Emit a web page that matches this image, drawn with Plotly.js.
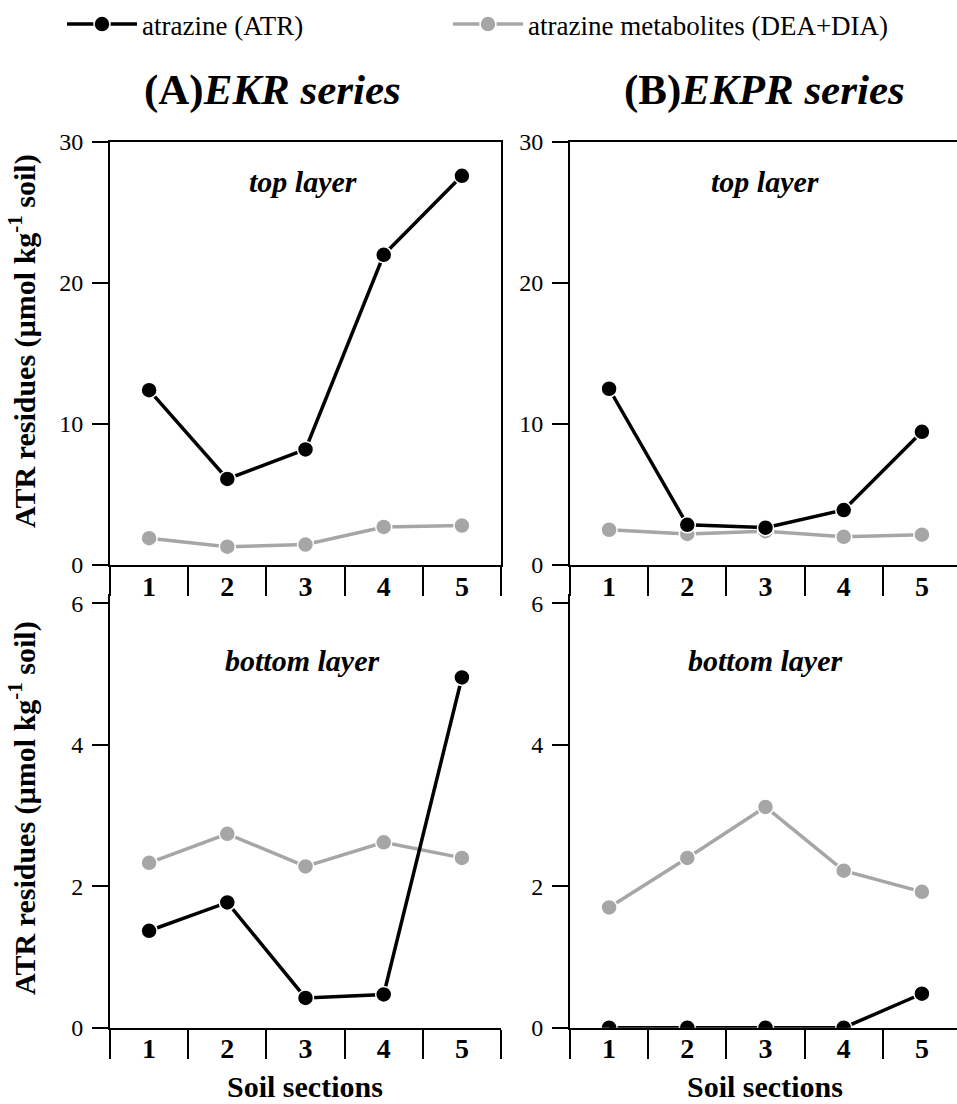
<!DOCTYPE html>
<html><head><meta charset="utf-8">
<script src="https://cdn.plot.ly/plotly-3.0.1.min.js"></script>
<style>html,body{margin:0;padding:0;overflow:hidden;background:#fff}#plot{width:965px;height:1104px}</style>
</head><body><div id="plot"></div><script>
// ---- data ----
const sections = [1, 2, 3, 4, 5];
const sectionLabels = ['1', '2', '3', '4', '5'];
const seriesNames = ['atrazine (ATR)', 'atrazine metabolites (DEA+DIA)'];
const ekrTopATR  = [12.4, 6.1, 8.2, 22.0, 27.6];
const ekrTopMet  = [1.9, 1.3, 1.45, 2.7, 2.8];
const ekprTopATR = [12.5, 2.85, 2.65, 3.9, 9.45];
const ekprTopMet = [2.5, 2.2, 2.4, 2.0, 2.15];
const ekrBotATR  = [1.37, 1.77, 0.42, 0.47, 4.95];
const ekrBotMet  = [2.33, 2.74, 2.28, 2.62, 2.40];
const ekprBotATR = [0, 0, 0, 0, 0.48];
const ekprBotMet = [1.70, 2.40, 3.12, 2.22, 1.92];
const topTicks = [0, 10, 20, 30];
const botTicks = [0, 2, 4, 6];

// ---- styling ----
const FONT = '"Liberation Serif", "Times New Roman", serif';
const W = 965, H = 1104;
const px = v => v / W, py = v => 1 - v / H;
const BLACK = '#000000', GREY = '#a6a6a6';

function mk(x, y, ax, color, name, legendId, show) {
  return {
    x: x, y: y, xaxis: 'x' + ax, yaxis: 'y' + ax, type: 'scatter', mode: 'lines+markers',
    name: name, legend: legendId, showlegend: show,
    line: {color: color, width: 3.5},
    marker: {size: 16, color: color, line: {color: '#ffffff', width: 1.5}},
    hoverinfo: 'skip'
  };
}
const traces = [
  mk(sections, ekrTopMet, '', GREY, seriesNames[1], 'legend2', true),
  mk(sections, ekrTopATR, '', BLACK, seriesNames[0], 'legend', true),
  mk(sections, ekprTopMet, '2', GREY, seriesNames[1], 'legend2', false),
  mk(sections, ekprTopATR, '2', BLACK, seriesNames[0], 'legend', false),
  mk(sections, ekrBotMet, '3', GREY, seriesNames[1], 'legend2', false),
  mk(sections, ekrBotATR, '3', BLACK, seriesNames[0], 'legend', false),
  mk(sections, ekprBotMet, '4', GREY, seriesNames[1], 'legend2', false),
  mk(sections, ekprBotATR, '4', BLACK, seriesNames[0], 'legend', false)
];

function xax(domain, anchor, mirror) {
  return {
    domain: domain, anchor: anchor, range: [0.5, 5.5],
    tickmode: 'array', tickvals: sections, ticktext: sectionLabels,
    ticks: '', showgrid: false, zeroline: false,
    showline: true, linecolor: BLACK, linewidth: 2, mirror: mirror,
    tickfont: {family: FONT, size: 28, color: BLACK, weight: 'bold'},
    ticklabelstandoff: -5,
    minor: {tick0: 0.5, dtick: 1, ticks: 'outside', ticklen: 29, tickwidth: 2, tickcolor: BLACK, showgrid: false},
    fixedrange: true
  };
}
function yax(domain, anchor, range, ticks, mirror) {
  return {
    domain: domain, anchor: anchor, range: range,
    tickmode: 'array', tickvals: ticks, ticks: 'outside', ticklen: 16, tickwidth: 2, tickcolor: BLACK,
    showgrid: false, zeroline: false,
    showline: true, linecolor: BLACK, linewidth: 2, mirror: mirror,
    tickfont: {family: FONT, size: 24, color: BLACK},
    ticklabelstandoff: 4,
    fixedrange: true
  };
}
const xL = [px(110), px(501)], xR = [px(570), px(961)];
const yT = [py(565), py(142)], yB = [py(1027.7), py(594)];

const ann = [];
function note(text, x, y, size, angle) {
  ann.push({text: text, x: px(x), y: py(y), xref: 'paper', yref: 'paper', showarrow: false,
    xanchor: 'center', yanchor: 'middle', textangle: angle || 0,
    font: {family: FONT, size: size, color: BLACK}});
}
note('<b>(A)</b><b><i>EKR series</i></b>', 272, 90, 43);
note('<b>(B)</b><b><i>EKPR series</i></b>', 764, 90, 43);
note('<b><i>top layer</i></b>', 303, 181, 30);
note('<b><i>top layer</i></b>', 765, 181, 30);
note('<b><i>bottom layer</i></b>', 302, 660, 30);
note('<b><i>bottom layer</i></b>', 765, 660, 30);
note('<b>ATR residues (µmol kg<sup>-1</sup> soil)</b>', 22, 341, 30, -90);
note('<b>ATR residues (µmol kg<sup>-1</sup> soil)</b>', 22, 808, 30, -90);
note('<b>Soil sections</b>', 305, 1086, 30);
note('<b>Soil sections</b>', 765, 1086, 30);

const legFont = {family: FONT, size: 27, color: BLACK};
const layout = {
  width: W, height: H,
  margin: {l: 0, r: 0, t: 0, b: 0},
  paper_bgcolor: '#ffffff', plot_bgcolor: 'rgba(0,0,0,0)',
  showlegend: true,
  legend: {x: px(62), y: 1, xanchor: 'left', yanchor: 'top', orientation: 'h', font: legFont,
    bgcolor: 'rgba(0,0,0,0)', itemwidth: 70},
  legend2: {x: px(448), y: 1, xanchor: 'left', yanchor: 'top', orientation: 'h', font: legFont,
    bgcolor: 'rgba(0,0,0,0)', itemwidth: 70},
  xaxis: xax(xL, 'y', true),
  yaxis: yax(yT, 'x', [0, 30], topTicks, true),
  xaxis2: xax(xR, 'y2', true),
  yaxis2: yax(yT, 'x2', [0, 30], topTicks, true),
  xaxis3: xax(xL, 'y3', false),
  yaxis3: yax(yB, 'x3', [0, 6.13], botTicks, false),
  xaxis4: xax(xR, 'y4', false),
  yaxis4: yax(yB, 'x4', [0, 6.13], botTicks, false),
  annotations: ann
};
Plotly.newPlot('plot', traces, layout, {displayModeBar: false, staticPlot: true});
</script></body></html>
